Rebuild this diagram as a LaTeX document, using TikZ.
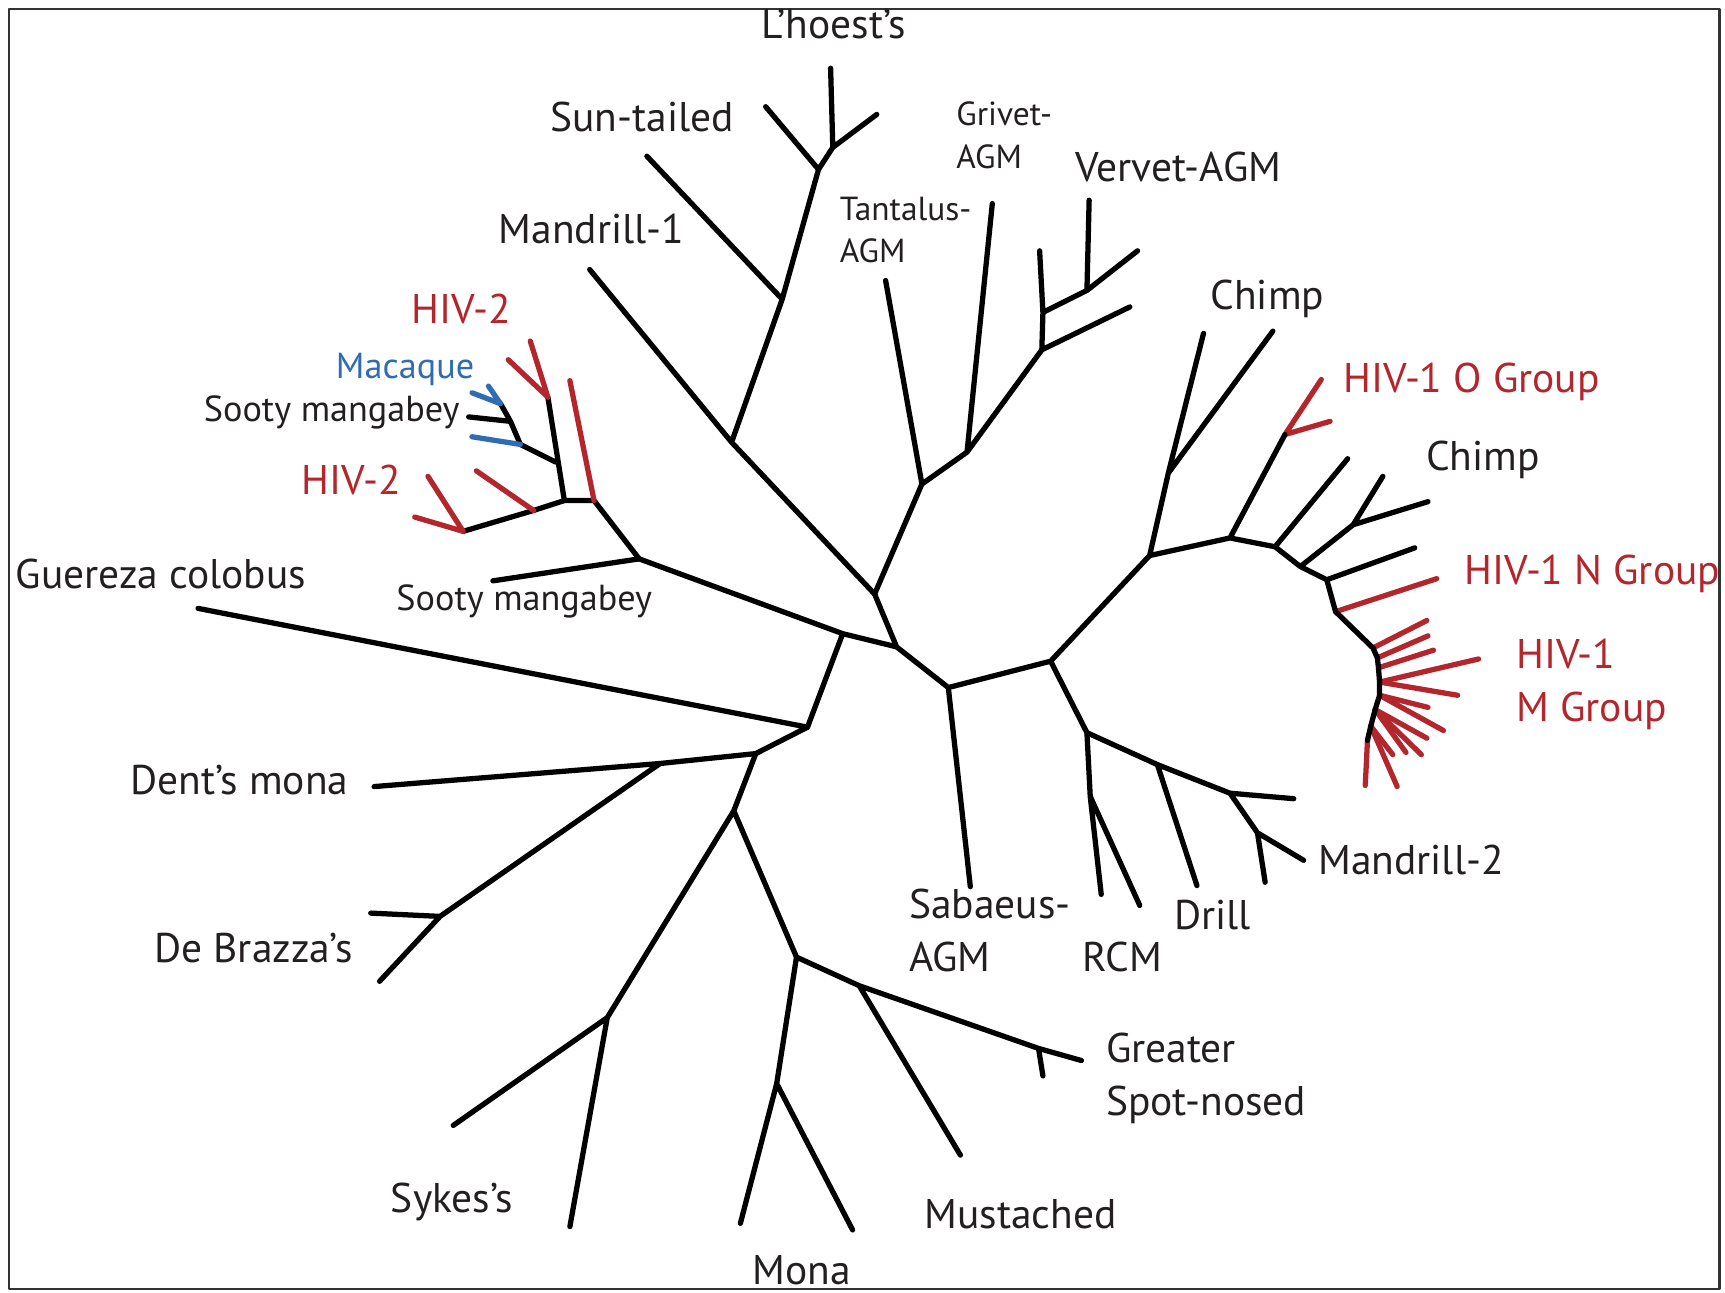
\documentclass[tikz,border=0pt]{standalone}
\usepackage{fontspec}
\setmainfont{PT Sans}
\usepackage{tikz}
\definecolor{hivred}{HTML}{B3262C}
\definecolor{macblue}{HTML}{2F6CB3}
\definecolor{labelgray}{HTML}{231F20}

\begin{document}
\begin{tikzpicture}[x=0.011cm, y=-0.011cm, line width=1.5pt, line cap=round, line join=round,
  lab/.style={inner sep=0pt, anchor=west, align=left, text=labelgray, font=\fontsize{11.8}{15}\selectfont},
  slab/.style={lab, font=\fontsize{10.3}{12}\selectfont},
  tlab/.style={lab, font=\fontsize{9.5}{12}\selectfont},
  redlab/.style={lab, text=hivred}]
\useasboundingbox (0,0) rectangle (1568,1175);
\draw[line width=0.6pt, black!80] (8,8) rectangle (1563,1172);

% L'hoest's, Sun-tailed, Mandrill-1
\coordinate (tLh) at (755,62);  \coordinate (tLh2) at (797,104); \coordinate (nLh) at (757,134);
\coordinate (tSt) at (696,97);  \coordinate (nSt) at (744,154);  \coordinate (nSun) at (711,272);
\coordinate (tSun) at (588,142); \coordinate (nMa) at (665,402); \coordinate (tMa1) at (536,245);
\coordinate (nAg) at (795,540);
\draw (tLh) -- (nLh) (tLh2) -- (nLh) -- (nSt) (tSt) -- (nSt) -- (nSun) (tSun) -- (nSun) -- (nMa)
      (tMa1) -- (nMa) -- (nAg);

% AGM group
\coordinate (tTa) at (805,255); \coordinate (nTa) at (838,440); \coordinate (tGr) at (902,185);
\coordinate (nGr) at (879,411); \coordinate (nVe) at (947,318); \coordinate (tVe4) at (1027,279);
\coordinate (nVe1) at (948,284); \coordinate (tVe1) at (945,228); \coordinate (nVe2) at (988,264);
\coordinate (tVe2) at (990,182); \coordinate (tVe3) at (1034,228);
\draw (tTa) -- (nTa) -- (nAg) (nTa) -- (nGr) -- (tGr) (nGr) -- (nVe) -- (tVe4)
      (nVe) -- (nVe1) -- (tVe1) (nVe1) -- (nVe2) -- (tVe2) (nVe2) -- (tVe3);

% centre
\coordinate (nD) at (815,588); \coordinate (nRt) at (862,625); \coordinate (tSa) at (882,806);
\coordinate (nF) at (955,601); \coordinate (nL) at (1045,505); \coordinate (nM) at (988,666);
\coordinate (nH) at (581,508); \coordinate (nG) at (766,576); \coordinate (nI) at (734,661);
\draw (nAg) -- (nD) -- (nRt) -- (tSa) (nRt) -- (nF) -- (nL) (nF) -- (nM)
      (nH) -- (nG) -- (nD) (nG) -- (nI);

% HIV-2, sooty mangabey, macaque
\coordinate (tSm) at (448,528); \coordinate (nW) at (540,455); \coordinate (tW) at (518,346);
\coordinate (nX) at (513,455); \coordinate (nY) at (485,464); \coordinate (tY) at (433,428);
\coordinate (nZ) at (421,483); \coordinate (tZ1) at (389,433); \coordinate (tZ2) at (377,470);
\coordinate (nAA) at (498,361); \coordinate (tAA1) at (482,310); \coordinate (tAA2) at (462,327);
\coordinate (nMq0) at (505,420); \coordinate (nMq1) at (473,404); \coordinate (tMq1) at (429,397);
\coordinate (nMq2) at (464,383); \coordinate (tMq2) at (426,379); \coordinate (nMq3) at (455,367);
\coordinate (tMq3a) at (429,357); \coordinate (tMq3b) at (444,351);
\draw (tSm) -- (nH) -- (nW) -- (nX) -- (nY) -- (nZ) (nX) -- (nAA)
      (nMq0) -- (nMq1) -- (nMq2) -- (tMq2) (nMq2) -- (nMq3);
\draw[hivred] (nW) -- (tW) (nY) -- (tY) (nZ) -- (tZ1) (nZ) -- (tZ2) (nAA) -- (tAA1) (nAA) -- (tAA2);
\draw[macblue] (nMq1) -- (tMq1) (nMq3) -- (tMq3a) (nMq3) -- (tMq3b);

% guenons, lower left
\coordinate (tGu) at (180,553); \coordinate (nJ) at (687,685); \coordinate (nDe) at (600,694);
\coordinate (tDe) at (340,715); \coordinate (nDb) at (400,833); \coordinate (tDb1) at (337,830);
\coordinate (tDb2) at (345,892); \coordinate (nK) at (667,737); \coordinate (nSy) at (552,925);
\coordinate (tSy1) at (412,1023); \coordinate (tSy2) at (518,1115); \coordinate (nMM) at (724,870);
\coordinate (nMu) at (781,896); \coordinate (tMu) at (873,1050); \coordinate (tGs) at (983,964);
\coordinate (nGs) at (944,953); \coordinate (tGs2) at (948,978); \coordinate (nMo) at (706,985);
\coordinate (tMo1) at (673,1112); \coordinate (tMo2) at (775,1118);
\draw (tGu) -- (nI) -- (nJ) -- (nDe) -- (tDe) (nDe) -- (nDb) -- (tDb1) (nDb) -- (tDb2)
      (nJ) -- (nK) -- (nSy) -- (tSy1) (nSy) -- (tSy2) (nK) -- (nMM) -- (nMu) -- (nGs) -- (tGs)
      (nGs) -- (tGs2) (nMu) -- (tMu) (nMM) -- (nMo) -- (tMo1) (nMo) -- (tMo2);

% RCM, drill, mandrill-2
\coordinate (nRc) at (991,724); \coordinate (tRc1) at (1001,813); \coordinate (tRc2) at (1036,823);
\coordinate (nDr) at (1052,695); \coordinate (tDr) at (1088,805); \coordinate (nMd) at (1118,721);
\coordinate (tMd1) at (1176,726); \coordinate (nMd2) at (1143,757); \coordinate (tMd2) at (1150,802);
\coordinate (tMd3) at (1185,782);
\draw (nM) -- (nRc) -- (tRc1) (nRc) -- (tRc2) (nM) -- (nDr) -- (tDr) (nDr) -- (nMd) -- (tMd1)
      (nMd) -- (nMd2) -- (tMd2) (nMd2) -- (tMd3);

% chimp and HIV-1
\coordinate (nQ) at (1062,430); \coordinate (tQ1) at (1094,303); \coordinate (tQ2) at (1157,301);
\coordinate (nR) at (1118,489); \coordinate (nRO) at (1168,395); \coordinate (tO1) at (1201,345);
\coordinate (tO2) at (1209,383); \coordinate (nS) at (1159,497); \coordinate (tS) at (1225,417);
\coordinate (nT) at (1182,515); \coordinate (nTW) at (1230,477); \coordinate (tTW1) at (1257,433);
\coordinate (tTW2) at (1298,456); \coordinate (nU) at (1206,527); \coordinate (tU) at (1286,498);
\coordinate (nV) at (1214,556); \coordinate (tV) at (1306,526);
\coordinate (bm0) at (1248,589); \coordinate (bm1) at (1252,598); \coordinate (bm2) at (1253,607);
\coordinate (bm3) at (1254,620); \coordinate (bm4) at (1254,632); \coordinate (bm5) at (1250,645);
\coordinate (bm6) at (1246,660); \coordinate (bm7) at (1243,673);
\foreach \b/\x/\y [count=\i] in {bm0/1297/564, bm1/1298/578, bm2/1303/591, bm3/1344/599,
    bm3/1325/632, bm4/1298/643, bm4/1312/664, bm5/1297/671, bm5/1292/686, bm5/1278/684,
    bm6/1266/686, bm6/1270/715, bm7/1241/714}{
  \coordinate (mt\i) at (\x,\y);
  \draw[hivred] (\b) -- (mt\i);
}
\draw[hivred] (nRO) -- (tO1) (nRO) -- (tO2) (nV) -- (tV);
\draw (nL) -- (nQ) -- (tQ1) (nQ) -- (tQ2) (nL) -- (nR) -- (nRO) (nR) -- (nS) -- (tS)
      (nS) -- (nT) -- (nTW) -- (tTW1) (nTW) -- (tTW2) (nT) -- (nU) -- (tU) (nU) -- (nV)
      (nV) -- (bm0) -- (bm1) -- (bm2) -- (bm3) -- (bm4) -- (bm5) -- (bm6) -- (bm7);

% labels
\node[lab, anchor=center] (lhoest) at (758,22) {L’hoest’s};
\node[lab] (suntail) at (498,106) {Sun-tailed};
\node[lab] (mand1) at (451,208) {Mandrill-1};
\node[tlab] (grivet) at (867,123) {Grivet-\\AGM};
\node[tlab] (tantal) at (761,209) {Tantalus-\\AGM};
\node[lab] (vervet) at (975,152) {Vervet-AGM};
\node[lab] (chimpa) at (1098,272) {Chimp};
\node[redlab] (hivo) at (1219,347) {HIV-1 O Group};
\node[lab] (chimpb) at (1294,418) {Chimp};
\node[redlab] (hivn) at (1329,522) {HIV-1 N Group};
\node[redlab] (hivm) at (1376,622) {HIV-1\\M Group};
\node[lab] (mand2) at (1196,782) {Mandrill-2};
\node[lab] (drill) at (1065,832) {Drill};
\node[lab] (rcm) at (982,870) {RCM};
\node[lab] (sabaeus) at (824,846) {Sabaeus-\\AGM};
\node[lab] (greater) at (1003,980) {Greater\\Spot-nosed};
\node[lab] (mustach) at (838,1104) {Mustached};
\node[lab, anchor=center] (mona) at (729,1155) {Mona};
\node[lab] (sykes) at (353,1093) {Sykes’s};
\node[lab] (brazza) at (138,862) {De Brazza’s};
\node[lab] (dents) at (116,709) {Dent’s mona};
\node[lab] (guereza) at (12,522) {Guereza colobus};
\node[slab] (sootylo) at (358,547) {Sooty mangabey};
\node[redlab] (hivtwolo) at (272,436) {HIV-2};
\node[slab] (sootyup) at (183,375) {Sooty mangabey};
\node[slab, text=macblue] (macaque) at (303,336) {Macaque};
\node[redlab] (hivtwoup) at (372,281) {HIV-2};
\end{tikzpicture}
\end{document}
